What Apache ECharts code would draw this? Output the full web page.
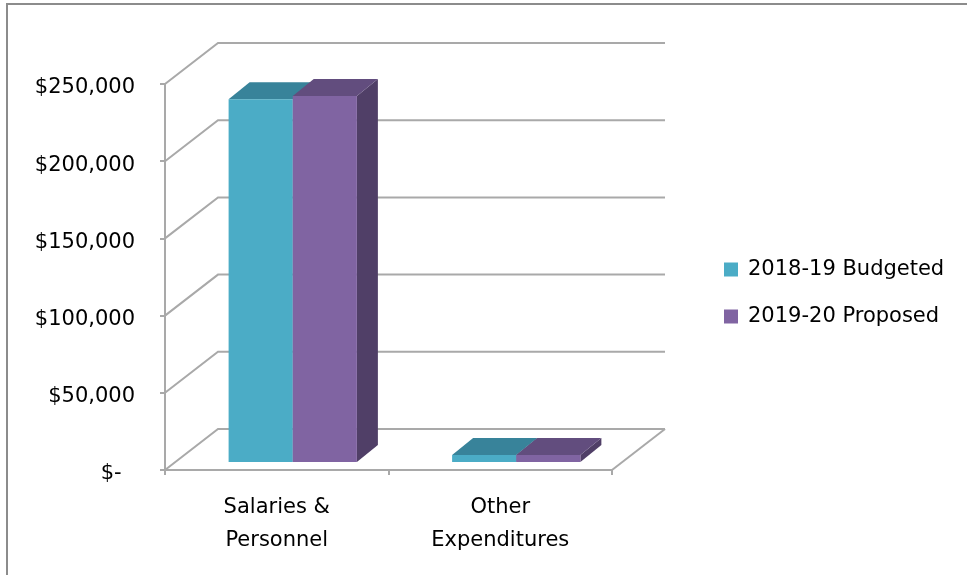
<!DOCTYPE html>
<html>
<head>
<meta charset="utf-8">
<script src="https://cdn.jsdelivr.net/npm/echarts@6/dist/echarts.min.js"></script>
<style>
  html, body { margin: 0; padding: 0; background: #fff; }
  #main { width: 967px; height: 575px; }
</style>
</head>
<body>
<div id="main"></div>
<script>
// chart data
var categories = ["Salaries &\nPersonnel", "Other\nExpenditures"];
var seriesNames = ["2018-19 Budgeted", "2019-20 Proposed"];
var budgeted = [235000, 4500];
var proposed = [237000, 4500];
var yTicks = [0, 50000, 100000, 150000, 200000, 250000];

// look of the fake 3d
var FONT = "DejaVu Sans";
var WALL_DX = 53, WALL_DY = -41;   // depth of the back wall
var BAR_DX = 16, BAR_DY = -8;      // bar front sits a bit behind the front plane
var BAR_DEPTH_X = 21, BAR_DEPTH_Y = -17;
var BAR_FRAC = 0.287;              // one bar as share of a category band
var LINE = "#a9a9a9";

var faces = [
    { front: "#4bacc6", top: "#38839a", side: "#357a8f" },
    { front: "#8064a2", top: "#624d7e", side: "#503f67" }
];

var myChart = echarts.init(document.getElementById("main"));

// back wall + left wall + floor outline
function renderFrame(params, api) {
    var cs = params.coordSys;
    var v = api.value(1);
    var y = api.coord([0, v])[1];
    var x0 = cs.x, x1 = cs.x + cs.width;
    var kids = [{
        type: "polyline",
        shape: { points: [[x0, y], [x0 + WALL_DX, y + WALL_DY], [x1 + WALL_DX, y + WALL_DY]] },
        style: { stroke: LINE, lineWidth: 2, fill: null }
    }];
    if (v === 0) {
        kids.push({
            type: "line",
            shape: { x1: x1, y1: y, x2: x1 + WALL_DX, y2: y + WALL_DY },
            style: { stroke: LINE, lineWidth: 2 }
        });
    }
    return { type: "group", children: kids };
}

function makeBarRender(k) {
    return function (params, api) {
        var idx = api.value(0);
        var top = api.coord([idx, api.value(1)]);
        var base = api.coord([idx, 0]);
        var w = api.size([1, 0])[0] * BAR_FRAC;
        var left = top[0] - w + k * w + BAR_DX;
        var right = left + w;
        var yt = top[1] + BAR_DY;
        var yb = base[1] + BAR_DY;
        var c = faces[k];
        return {
            type: "group",
            children: [
                {
                    type: "polygon",
                    shape: { points: [[right, yt], [right + BAR_DEPTH_X, yt + BAR_DEPTH_Y], [right + BAR_DEPTH_X, yb + BAR_DEPTH_Y], [right, yb]] },
                    style: { fill: c.side }
                },
                {
                    type: "polygon",
                    shape: { points: [[left, yt], [left + BAR_DEPTH_X, yt + BAR_DEPTH_Y], [right + BAR_DEPTH_X, yt + BAR_DEPTH_Y], [right, yt]] },
                    style: { fill: c.top }
                },
                {
                    type: "rect",
                    shape: { x: left, y: yt, width: w, height: yb - yt },
                    style: { fill: c.front }
                }
            ]
        };
    };
}

var option = {
    animation: false,
    graphic: [{
        type: "rect",
        shape: { x: 7, y: 4, width: 970, height: 590 },
        style: { fill: null, stroke: "#8c8c8c", lineWidth: 2 },
        silent: true
    }],
    legend: {
        orient: "vertical",
        left: 719,
        top: 254,
        itemWidth: 14,
        itemHeight: 14,
        itemGap: 26,
        icon: "rect",
        data: seriesNames,
        textStyle: { fontFamily: FONT, fontSize: 21, color: "#000", padding: [0, 0, 0, 5] }
    },
    grid: { left: 165, top: 84, right: 355, bottom: 105 },
    xAxis: {
        type: "category",
        data: categories,
        axisLine: { lineStyle: { color: LINE, width: 2 } },
        axisTick: { show: true, length: 5, lineStyle: { color: LINE, width: 2 } },
        axisLabel: { fontFamily: FONT, fontSize: 21, color: "#000", lineHeight: 33, margin: 21 }
    },
    yAxis: {
        type: "value",
        min: 0,
        max: 250000,
        interval: 50000,
        splitLine: { show: false },
        axisLine: { show: true, lineStyle: { color: LINE, width: 2 } },
        axisTick: { show: true, length: 5, lineStyle: { color: LINE, width: 2 } },
        axisLabel: {
            fontFamily: FONT, fontSize: 21, color: "#000", margin: 30,
            verticalAlign: "top",
            lineHeight: 8,
            formatter: function (v) {
                return v === 0 ? "$-  " : "$" + v.toLocaleString("en-US");
            }
        }
    },
    series: [
        {
            type: "custom",
            name: "frame",
            silent: true,
            z: 1,
            renderItem: renderFrame,
            data: yTicks.map(function (v) { return [0, v]; })
        },
        {
            type: "custom",
            name: seriesNames[0],
            z: 3,
            itemStyle: { color: faces[0].front },
            renderItem: makeBarRender(0),
            data: budgeted.map(function (v, i) { return [i, v]; })
        },
        {
            type: "custom",
            name: seriesNames[1],
            z: 4,
            itemStyle: { color: faces[1].front },
            renderItem: makeBarRender(1),
            data: proposed.map(function (v, i) { return [i, v]; })
        }
    ]
};

myChart.setOption(option);
</script>
</body>
</html>
